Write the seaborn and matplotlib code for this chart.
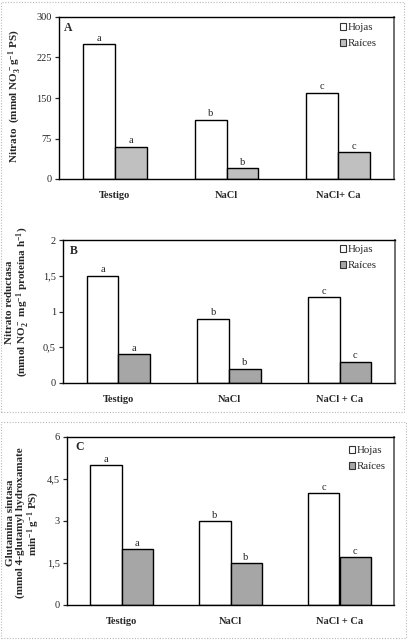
import matplotlib
matplotlib.use('Agg')
import matplotlib.pyplot as plt
import seaborn as sns
import pandas as pd
from matplotlib.patches import Rectangle

# ---------------- data ----------------
series = ['Hojas', 'Raíces']
cats_a = ['Testigo', 'NaCl', 'NaCl+ Ca']
cats_bc = ['Testigo', 'NaCl', 'NaCl + Ca']

nitrato_hojas = [250, 110, 160]
nitrato_raices = [60, 20, 50]
nr_hojas = [1.5, 0.9, 1.2]
nr_raices = [0.4, 0.2, 0.3]
gs_hojas = [5.0, 3.0, 4.0]
gs_raices = [2.0, 1.5, 1.7]

letters_hojas = ['a', 'b', 'c']
letters_raices = ['a', 'b', 'c']

yt_a = [0, 75, 150, 225, 300]
ytl_a = ['0', '75', '150', '225', '300']
yt_b = [0, 0.5, 1, 1.5, 2]
ytl_b = ['0', '0,5', '1', '1,5', '2']
yt_c = [0, 1.5, 3, 4.5, 6]
ytl_c = ['0', '1,5', '3', '4,5', '6']

ylab_a = 'Nitrato  (mmol NO$_3^-$g$^{-1}$ PS)'
ylab_b = 'Nitrato reductasa\n(mmol NO$_2^-$ mg$^{-1}$ proteína h$^{-1}$)'
ylab_c = 'Glutamina sintasa\n(mmol 4-glutamyl hydroxamate\nmin$^{-1}$ g$^{-1}$ PS)'

# ---------------- style ----------------
sns.set_style('white')
plt.rcParams['font.family'] = ['Liberation Serif', 'DejaVu Serif']
plt.rcParams['mathtext.default'] = 'regular'

W, H = 407, 640
fig = plt.figure(figsize=(W / 100, H / 100), dpi=100)
fig.patch.set_facecolor('white')


def fx(x):
    return x / W


def fy(y):
    return 1 - y / H


def panel(rect, hojas, raices, cats, rcolor, yt, ytl, letter, letter_pos,
          leg_pos, ylab, ylab_pos):
    l, t, r, b = rect
    ax = fig.add_axes([fx(l), fy(b), (r - l) / W, (b - t) / H])
    df = pd.DataFrame({
        'cat': cats * 2,
        'serie': [series[0]] * len(cats) + [series[1]] * len(cats),
        'val': list(hojas) + list(raices),
    })
    sns.barplot(data=df, x='cat', y='val', hue='serie', order=cats,
                hue_order=series,
                palette={series[0]: 'white', series[1]: rcolor},
                width=0.57, edgecolor='black', linewidth=1.0,
                saturation=1, errorbar=None, ax=ax)
    for cont, labs in zip(ax.containers, [letters_hojas, letters_raices]):
        ax.bar_label(cont, labels=labs, padding=1, fontsize=7.5, color='#222222')

    ax.set_xlim(-0.5, len(cats) - 0.5)
    ax.set_ylim(yt[0], yt[-1])
    ax.set_yticks(yt)
    ax.set_yticklabels(ytl, fontsize=7.5)
    ax.set_xticks(range(len(cats)))
    ax.set_xticklabels(cats, fontsize=7.5, fontweight='bold')
    ax.set_xticks([i - 0.5 for i in range(len(cats) + 1)], minor=True)
    ax.tick_params(axis='x', which='major', length=0, pad=9)
    ax.tick_params(axis='x', which='minor', length=3.5, width=1,
                   direction='out', color='#444444')
    ax.tick_params(axis='y', length=3, width=0.9, direction='out', pad=2,
                   left=True)
    ax.set_xlabel('')
    ax.set_ylabel('')
    for s in ['left', 'bottom', 'top']:
        ax.spines[s].set_color('black')
        ax.spines[s].set_linewidth(1.0)
    ax.spines['right'].set_color('#707070')
    ax.spines['right'].set_linewidth(1.4)

    handles, labels = ax.get_legend_handles_labels()
    for h in handles:
        h.set_edgecolor('#333333')
        h.set_linewidth(0.8)
    lx, ly = leg_pos
    ax.legend(handles, labels, loc='upper left',
              bbox_to_anchor=((lx - l) / (r - l), 1 - (ly - t) / (b - t)),
              frameon=False, fontsize=7.8, handlelength=0.55,
              handleheight=0.55, handletextpad=0.2, labelspacing=0.65,
              borderpad=0, borderaxespad=0)

    fig.text(fx(letter_pos[0]), fy(letter_pos[1]), letter, fontsize=8.5,
             fontweight='bold', ha='center', va='center')
    fig.text(fx(ylab_pos[0]), fy(ylab_pos[1]), ylab, rotation=90,
             fontsize=8, fontweight='bold', ha='center', va='center',
             multialignment='center', linespacing=1.1)
    return ax


panel((59, 17, 394, 179), nitrato_hojas, nitrato_raices, cats_a, '#c0c0c0',
      yt_a, ytl_a, 'A', (68, 28), (340, 23), ylab_a, (15, 96))
panel((63, 240, 395, 383), nr_hojas, nr_raices, cats_bc, '#a6a6a6',
      yt_b, ytl_b, 'B', (74, 251), (340, 245), ylab_b, (18, 302))
panel((67, 437, 394, 605), gs_hojas, gs_raices, cats_bc, '#a6a6a6',
      yt_c, ytl_c, 'C', (80, 447), (349, 446), ylab_c, (24, 523))

# dotted frames around the panels
for (x0, y0, x1, y1) in [(1, 2, 404, 412), (1, 422, 406, 638)]:
    fig.patches.append(Rectangle((fx(x0), fy(y1)), (x1 - x0) / W,
                                 (y1 - y0) / H, transform=fig.transFigure,
                                 fill=False, ls=(0, (1, 1.5)),
                                 ec='#b8b8b8', lw=0.8))

fig.savefig('out.png', dpi=100)
